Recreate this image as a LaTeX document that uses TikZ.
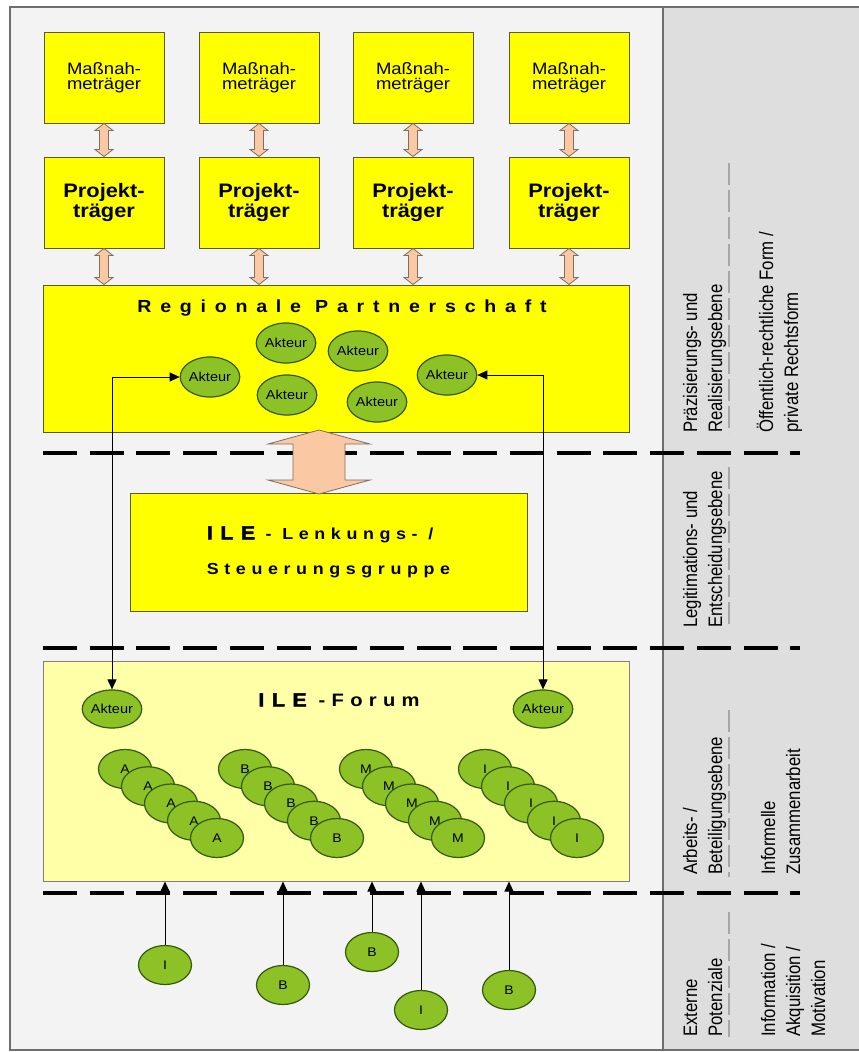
\documentclass[tikz,border=0pt]{standalone}
\usepackage{fontspec}
\setmainfont{Liberation Sans}[FakeStretch=1.12]
\newfontfamily\sidefont{Liberation Sans}[FakeStretch=0.86]
\newfontfamily\spacedfont{Liberation Sans}[FakeStretch=1.12,LetterSpace=50]
\newfontfamily\lenkfont{Liberation Sans}[FakeStretch=1.12,LetterSpace=35]
\newfontfamily\ilefont{Liberation Sans}[FakeStretch=1.12,LetterSpace=40,FakeBold=2.5]
\usetikzlibrary{calc, shapes.geometric, arrows.meta}

\definecolor{boxyellow}{RGB}{255,255,0}
\definecolor{forumyellow}{RGB}{255,255,168}
\definecolor{leafgreen}{RGB}{140,194,38}
\definecolor{leafedge}{RGB}{52,88,12}
\definecolor{peach}{RGB}{250,200,162}
\definecolor{peachedge}{RGB}{128,110,96}
\definecolor{leftgray}{RGB}{243,243,243}
\definecolor{rightgray}{RGB}{222,222,222}
\definecolor{framegray}{RGB}{110,110,110}
\definecolor{boxedge}{RGB}{90,90,50}

\tikzset{
  ybox/.style={draw=boxedge, fill=boxyellow, line width=1pt, minimum width=120, minimum height=91, align=center, inner sep=0},
  akteur/.style={ellipse, draw=leafedge, fill=leafgreen, line width=1.2pt, minimum width=54, minimum height=40, inner sep=0, font=\fontsize{13}{13}\selectfont},
  member/.style={ellipse, draw=leafedge, fill=leafgreen, line width=1.2pt, minimum width=53, minimum height=39, inner sep=0, font=\fontsize{12.5}{12.5}\selectfont},
  sidetext/.style={rotate=90, anchor=base west, align=left, inner sep=0, font=\sidefont\fontsize{19.5}{25}\selectfont},
  levelline/.style={black, line width=4pt, dash pattern=on 34pt off 12.7pt},
  guideline/.style={gray!70, line width=1.2pt, dash pattern=on 22pt off 5pt},
  pfeil/.style={fill=peach, draw=peachedge, line width=0.8pt},
  link/.style={line width=1pt, {Triangle[length=10pt,width=9pt]}-{Triangle[length=10pt,width=9pt]}},
  feed/.style={line width=1pt, -{Triangle[length=10pt,width=9pt]}}
}

% double arrow: top tip, bottom tip, shaft half width, head half width, head length
\newcommand{\dblarrow}[5]{%
  \draw[pfeil] (#1) -- ++(#4,#5) -- ++(#3-#4,0) -- ($(#2)+(#3,-#5)$) -- ++(#4-#3,0) -- (#2)
    -- ++(-#4,-#5) -- ++(#4-#3,0) -- ($(#1)+(-#3,#5)$) -- ++(#3-#4,0) -- cycle;}

\begin{document}
\begin{tikzpicture}[x=1pt, y=-1pt]
\useasboundingbox (0,0) rectangle (859,1052);
% Background panels
\fill[leftgray] (10,7) rectangle (663,1050);
\fill[rightgray] (663,7) rectangle (862,1050);
\draw[framegray, line width=1.5pt] (862,7) -- (10,7) -- (10,1050) -- (862,1050);
\draw[framegray, line width=2pt] (663,7) -- (663,1050);
% Level lines
\foreach \y in {453,648,893}
  \draw[levelline] (43,\y) -- (800,\y);

% Massnahmetraeger and Projekttraeger
\foreach \i/\x in {1/104,2/259,3/413,4/569} {
  \node[ybox, font=\fontsize{16.5}{15}\selectfont] (m\i) at (\x,77.5) {Maßnah-\\meträger};
  \node[ybox, font=\bfseries\fontsize{19.5}{20}\selectfont] (p\i) at (\x,202.5) {Projekt-\\träger};
}

% Regionale Partnerschaft
\node[ybox, minimum width=586, minimum height=147] (rp) at (336,358.5) {};
\node[font=\spacedfont\bfseries\fontsize{17.5}{17.5}\selectfont] (rptitle) at (342,308) {Regionale Partnerschaft};
\foreach \i in {1,...,4} {
  \coordinate (rp\i) at (p\i.south |- rp.north);
  \dblarrow{m\i.south}{p\i.north}{4.5}{9}{7}
  \dblarrow{p\i.south}{rp\i}{4.5}{9}{7}
}
\node[akteur] (ra1) at (210,377) {Akteur};
\node[akteur] (ra2) at (286,343) {Akteur};
\node[akteur] (ra3) at (358,351) {Akteur};
\node[akteur] (ra4) at (287,395) {Akteur};
\node[akteur] (ra5) at (377,402) {Akteur};
\node[akteur] (ra6) at (447,375) {Akteur};

% ILE Lenkungsgruppe
\node[ybox, minimum width=397, minimum height=118, align=left, font=\lenkfont\bfseries\fontsize{16}{35}\selectfont] (lenk) at (328.5,552)
  {{\ilefont\bfseries\fontsize{19}{35}\selectfont ILE} - Lenkungs- /\\Steuerungsgruppe};
\coordinate (bigtop) at (319,430);
\coordinate (bigbot) at (319,494);
\dblarrow{bigtop}{bigbot}{26}{51}{14}

% ILE Forum
\node[draw=gray, fill=forumyellow, line width=1pt, minimum width=586, minimum height=220] (forum) at (336,771) {};
\node[font=\lenkfont\bfseries\fontsize{18}{18}\selectfont] (forumtitle) at (339,700)
  {{\ilefont\bfseries\fontsize{19}{18}\selectfont ILE} -Forum};
\node[akteur, minimum width=52, minimum height=38] (fa1) at (112,709) {Akteur};
\node[akteur, minimum width=52, minimum height=38] (fa2) at (543,709) {Akteur};
\foreach \g/\x in {A/125,B/245,M/366,I/485}
  \foreach \k in {0,...,4}
    \node[member] (\g\k) at (\x+23*\k,769+17.25*\k) {\g};

% Akteure between the levels
\draw[link] (ra1.west) -| (fa1.north);
\draw[link] (ra6.east) -| (fa2.north);

% External potentials
\node[member] (x1) at (165,965) {I};
\node[member] (x2) at (283,985) {B};
\node[member] (x3) at (372,952) {B};
\node[member] (x4) at (421,1010) {I};
\node[member] (x5) at (509,990) {B};
\foreach \n in {1,...,5}
  \draw[feed] (x\n.north) -- (x\n.north |- forum.south);

% Side labels (anchored at the baseline of the last line)
\node[sidetext] (lvl1) at (722,433) {Präzisierungs- und\\Realisierungsebene};
\node[sidetext] (lvl2) at (722,628) {Legitimations- und\\Entscheidungsebene};
\node[sidetext] (lvl3) at (722,875) {Arbeits- /\\Beteiligungsebene};
\node[sidetext] (lvl4) at (722,1037) {Externe\\Potenziale};
\node[sidetext] (form1) at (798,433) {Öffentlich-rechtliche Form /\\private Rechtsform};
\node[sidetext] (form2) at (800,875) {Informelle\\Zusammenarbeit};
\node[sidetext] (form3) at (825,1037) {Information /\\Akquisition /\\Motivation};
\draw[guideline] (729,163) -- (729,433);
\draw[guideline] (729,467) -- (729,628);
\draw[guideline] (729,710) -- (729,877);
\draw[guideline] (729,912) -- (729,1037);
\end{tikzpicture}
\end{document}
